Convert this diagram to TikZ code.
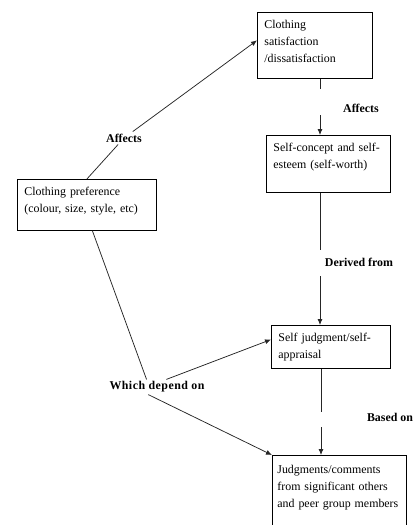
\documentclass[tikz,border=0pt]{standalone}
\usepackage{fontspec}
\setmainfont{Liberation Serif}
\usetikzlibrary{arrows.meta}
\hyphenpenalty=10000

\begin{document}
\begin{tikzpicture}[
  x=1pt, y=-1pt,
  box/.style={rectangle, draw=black, line width=0.8pt, anchor=north west,
              align=left, inner xsep=7pt, inner ysep=0pt, text height=16pt,
              font=\fontsize{11.9}{17}\selectfont},
  rel/.style={font=\fontsize{11.9}{17}\selectfont\bfseries, inner sep=2pt},
  line/.style={line width=0.75pt, black!85},
  arrow/.style={line, -{Latex[length=6pt, width=5pt]}}
]
\useasboundingbox (0,0) rectangle (415,525);

\node[box, text width=101pt, text depth=50pt] (sat)      at (257,12)  {Clothing\\satisfaction\\/dissatisfaction};
\node[box, text width=110pt, text depth=41pt] (concept)  at (266,135) {Self-concept and self-\\esteem (self-worth)};
\node[box, text width=125pt, text depth=35pt] (pref)     at (17,179)  {Clothing preference\\(colour, size, style, etc)};
\node[box, text width=105pt, text depth=27pt] (judg)     at (271,325) {Self judgment/self-\\appraisal};
\node[box, inner xsep=5pt, text width=124pt, text height=18pt, text depth=65pt] (comments) at (272,455)
  {Judgments/comments\\from significant others\\and peer group members};

\node[rel] (aff1)    at (124,138) {Affects};
\node[rel] (aff2)    at (361,108) {Affects};
\node[rel] (derived) at (359,262) {Derived from};
\node[rel] (based)   at (390,417) {Based on};
\node[rel] (which)   at (157,387) {\addfontfeature{LetterSpace=4}Which depend on};

% breaks in the right-hand column
\coordinate (g1) at (320,89);
\coordinate (g2) at (320,115);
\coordinate (g3) at (320,250);
\coordinate (g4) at (320,276);
\coordinate (g5) at (321,412);
\coordinate (g6) at (321,427);

\draw[line]  (sat.south -| g1) -- (g1);
\draw[arrow] (g2) -- (concept.north -| g2);
\draw[line]  (concept.south -| g3) -- (g3);
\draw[arrow] (g4) -- (judg.north -| g4);
\draw[line]  (judg.south -| g5) -- (g5);
\draw[arrow] (g6) -- (comments.north -| g6);

\draw[line]  (pref.north) -- (aff1);
\draw[arrow] (aff1) -- (sat.175);
\draw[line]  (pref.-78) -- (which.144);
\draw[arrow] (which.39) -- (judg.173);
\draw[arrow] (which.-139) -- (comments.north west);

\end{tikzpicture}
\end{document}
